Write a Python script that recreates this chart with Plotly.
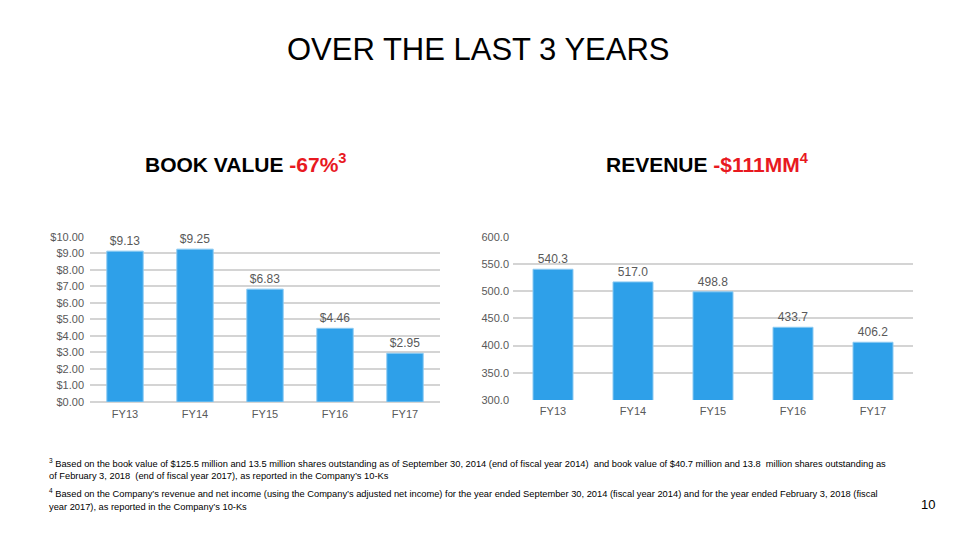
import plotly.graph_objects as go

categories = ["FY13", "FY14", "FY15", "FY16", "FY17"]
book_value = [9.13, 9.25, 6.83, 4.46, 2.95]
revenue = [540.3, 517.0, 498.8, 433.7, 406.2]
book_labels = ["$9.13", "$9.25", "$6.83", "$4.46", "$2.95"]
rev_labels = ["540.3", "517.0", "498.8", "433.7", "406.2"]

BAR = "#2EA0E9"
TXT = "#595959"
GRID = "#d4d4d4"

fig = go.Figure()
fig.add_trace(go.Bar(x=categories, y=book_value, text=book_labels, textposition="outside",
                     marker=dict(color=BAR, line=dict(color="#8ccaf2", width=1)),
                     width=0.52, cliponaxis=False, xaxis="x", yaxis="y",
                     textfont=dict(family="Liberation Sans, Arial", size=12, color=TXT)))
fig.add_trace(go.Bar(x=categories, y=revenue, text=rev_labels, textposition="outside",
                     marker=dict(color=BAR, line=dict(color="#8ccaf2", width=1)),
                     width=0.5, cliponaxis=False, xaxis="x2", yaxis="y2",
                     textfont=dict(family="Liberation Sans, Arial", size=12, color=TXT)))

axfont = dict(family="Liberation Sans, Arial", size=11, color=TXT)
fig.update_layout(
    width=960, height=540, margin=dict(l=0, r=0, t=0, b=0),
    paper_bgcolor="white", plot_bgcolor="white", showlegend=False,
    xaxis=dict(domain=[90/960, 440/960], anchor="y", tickfont=axfont, showgrid=False,
               showline=False, ticks="", ticklabelstandoff=4),
    yaxis=dict(domain=[1-405/540, 1-236/540], anchor="x", range=[0, 10], dtick=1,
               tickformat="$.2f", tickfont=axfont, gridcolor=GRID, gridwidth=1.5,
               zeroline=True, zerolinecolor=GRID, zerolinewidth=1.5, showline=False,
               ticklabelstandoff=5),
    xaxis2=dict(domain=[513/960, 913/960], anchor="y2", tickfont=axfont, showgrid=False,
                showline=False, ticklabelstandoff=3),
    yaxis2=dict(domain=[1-403/540, 1-236/540], anchor="x2", range=[300, 600], dtick=50,
                tickformat=".1f", tickfont=axfont, gridcolor=GRID, gridwidth=1.5,
                zeroline=False, showline=False, ticklabelstandoff=3),
)

fig.add_annotation(text="OVER THE LAST 3 YEARS", x=478/960, y=1-44/540, xref="paper", yref="paper",
                   showarrow=False, font=dict(family="Liberation Sans, Arial", size=31, color="black"),
                   xanchor="center", yanchor="middle")

sub_font = dict(family="Liberation Sans, Arial", size=21, color="black")
fig.add_annotation(text="<b>BOOK VALUE <span style='color:#e8191f'>-67%<sup>3</sup></span></b>",
                   x=246/960, y=1-161/540, xref="paper", yref="paper", showarrow=False,
                   font=sub_font, xanchor="center", yanchor="middle")
fig.add_annotation(text="<b>REVENUE <span style='color:#e8191f'>-$111MM<sup>4</sup></span></b>",
                   x=707/960, y=1-161/540, xref="paper", yref="paper", showarrow=False,
                   font=sub_font, xanchor="center", yanchor="middle")

foot_font = dict(family="Liberation Sans, Arial", size=9.3, color="black")
foot_lines = [
    ("<sup>3</sup> Based on the book value of $125.5 million and 13.5 million shares outstanding as of September 30, 2014 (end of fiscal year 2014)  and book value of $40.7 million and 13.8  million shares outstanding as", 467),
    ("of February 3, 2018  (end of fiscal year 2017), as reported in the Company’s 10-Ks", 481),
    ("<sup>4</sup> Based on the Company’s revenue and net income (using the Company’s adjusted net income) for the year ended September 30, 2014 (fiscal year 2014) and for the year ended February 3, 2018 (fiscal", 498),
    ("year 2017), as reported in the Company’s 10-Ks", 512),
]
for txt, yy in foot_lines:
    fig.add_annotation(text=txt, x=47/960, y=1-yy/540, xref="paper", yref="paper", showarrow=False,
                       align="left", font=foot_font, xanchor="left", yanchor="middle")
fig.add_annotation(text="10", x=928/960, y=1-510/540, xref="paper", yref="paper", showarrow=False,
                   font=dict(family="Liberation Sans, Arial", size=13, color="black"),
                   xanchor="center", yanchor="middle")

fig.write_html("out.html", config={"displayModeBar": False},
               post_script="document.body.style.margin='0px';document.body.style.overflow='hidden';")
